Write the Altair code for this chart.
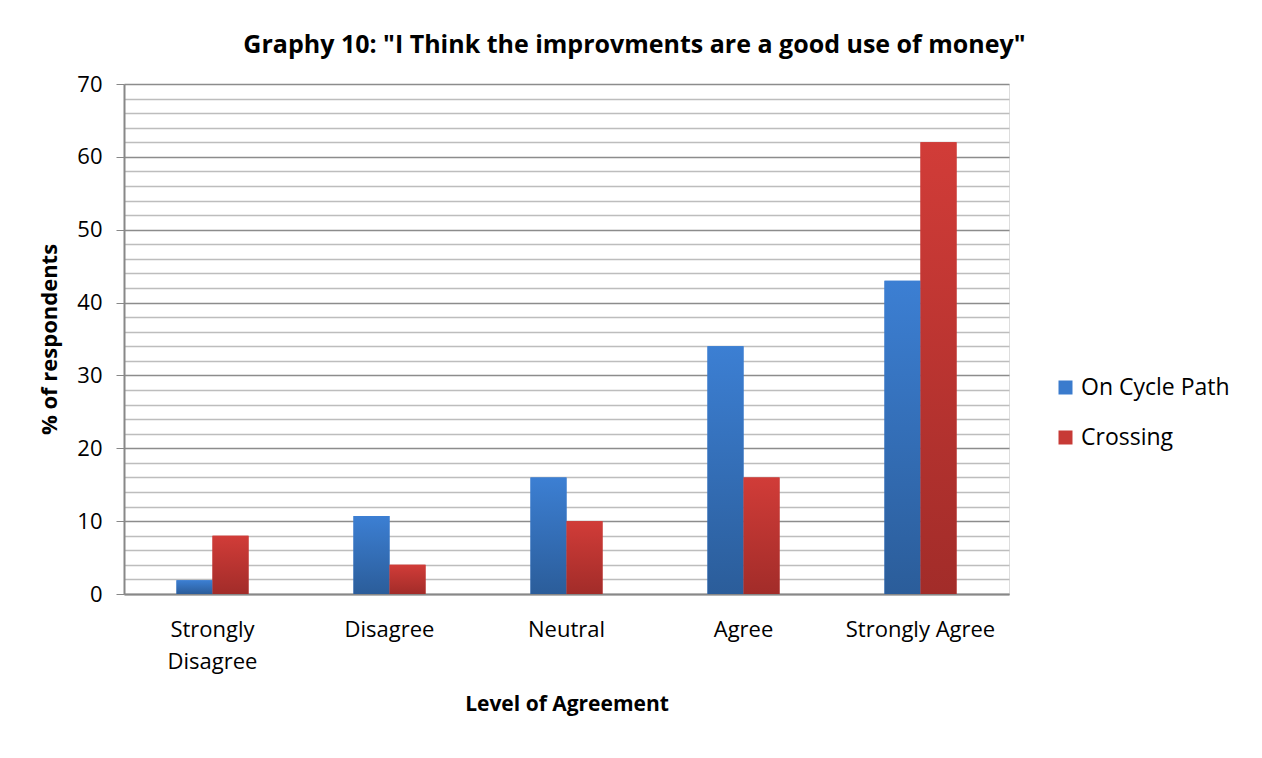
import altair as alt
import pandas as pd

categories = ["Strongly Disagree", "Disagree", "Neutral", "Agree", "Strongly Agree"]
series_names = ["On Cycle Path", "Crossing"]
on_cycle_path = [1.9, 10.7, 16, 34, 43]
crossing = [8, 4, 10, 16, 62]

rows = []
for i, c in enumerate(categories):
    rows.append({"level": c, "series": series_names[0], "value": on_cycle_path[i]})
    rows.append({"level": c, "series": series_names[1], "value": crossing[i]})
df = pd.DataFrame(rows)

FONT = "Open Sans"

blue_grad = alt.LinearGradient(
    gradient="linear", x1=0, y1=0, x2=0, y2=1,
    stops=[alt.GradientStop(offset=0, color="#3C7FD3"),
           alt.GradientStop(offset=1, color="#2B5D9A")])
red_grad = alt.LinearGradient(
    gradient="linear", x1=0, y1=0, x2=0, y2=1,
    stops=[alt.GradientStop(offset=0, color="#D13C38"),
           alt.GradientStop(offset=1, color="#A22C29")])

x_enc = alt.X("level:N", sort=categories,
              scale=alt.Scale(paddingInner=0.593, paddingOuter=0.2965),
              axis=alt.Axis(title="Level of Agreement", labelAngle=0,
                            labelExpr="datum.label == 'Strongly Disagree' ? ['Strongly', 'Disagree'] : datum.label",
                            labelFontSize=22, labelFont=FONT, labelColor="#000",
                            labelLineHeight=32, labelPadding=25, labelBaseline="top",
                            titleFontSize=21, titleFont=FONT, titleFontWeight="bold",
                            titleColor="#000", titlePadding=21,
                            domainColor="#888", domainWidth=2, ticks=False,
                            grid=False))
xoff_enc = alt.XOffset("series:N", sort=series_names)
y_enc = alt.Y("value:Q",
              scale=alt.Scale(domain=[0, 70], nice=False),
              axis=alt.Axis(title="% of respondents",
                            values=list(range(0, 71, 2)),
                            labelExpr="datum.value % 10 == 0 ? datum.label : ''",
                            labelFontSize=22, labelFont=FONT, labelColor="#000",
                            labelPadding=14,
                            titleFontSize=22, titleFont=FONT, titleFontWeight="bold",
                            titleColor="#000", titlePadding=15,
                            domainColor="#888", domainWidth=2,
                            tickSize=8, tickColor="#888",
                            tickOpacity={"condition": {"test": "datum.value % 10 == 0", "value": 1}, "value": 0},
                            gridColor={"condition": {"test": "datum.value % 10 == 0", "value": "#8c8c8c"}, "value": "#bdbdbd"},
                            gridWidth=1.5))

legend_layer = alt.Chart(df).mark_bar().encode(
    x=x_enc, xOffset=xoff_enc, y=y_enc,
    color=alt.Color("series:N", sort=series_names,
                    scale=alt.Scale(domain=series_names, range=["#3A7BCD", "#C73A36"]),
                    legend=alt.Legend(title=None, orient="none", legendX=930, legendY=292,
                                      labelFontSize=23, labelFont=FONT, labelColor="#000",
                                      symbolType="square", symbolSize=196,
                                      symbolStrokeWidth=0, rowPadding=26, labelOffset=4)),
)

grad_layer = alt.Chart(df).mark_bar().encode(
    x=x_enc, xOffset=xoff_enc, y=y_enc,
    fill=alt.condition(alt.datum.series == "On Cycle Path", alt.value(blue_grad), alt.value(red_grad)),
)

chart = alt.layer(legend_layer, grad_layer).properties(
    width=885, height=510,
    title=alt.TitleParams("Graphy 10: \"I Think the improvments are a good use of money\"",
                          fontSize=25, font=FONT, fontWeight="bold", color="#000",
                          anchor="middle", frame="bounds", offset=15),
    padding={"left": 30, "top": 25, "right": 20, "bottom": 20},
).configure_view(stroke=None).configure(background="white")

chart.save("out.html", embed_options={"renderer": "svg", "actions": False})
